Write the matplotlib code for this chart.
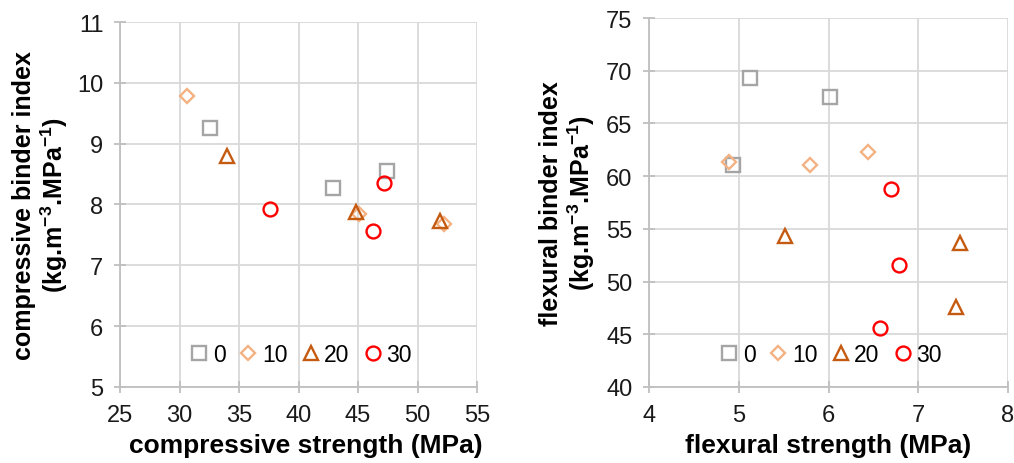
import matplotlib.pyplot as plt

plt.rcParams['font.family'] = ['Liberation Sans', 'DejaVu Sans']
plt.rcParams['mathtext.fontset'] = 'custom'
plt.rcParams['mathtext.bf'] = 'Liberation Sans:bold'
plt.rcParams['mathtext.rm'] = 'Liberation Sans'

series_labels = ['0', '10', '20', '30']
series_markers = ['s', 'D', '^', 'o']
series_colors = ['#A5A5A5', '#F4B183', '#C55A11', '#FF0000']
series_sizes = [10, 7.5, 9.5, 10]

# compressive strength (MPa) vs compressive binder index
comp_x = [
    [32.6, 42.9, 47.4],
    [30.6, 45.1, 52.2],
    [34.0, 44.8, 51.9],
    [37.6, 46.3, 47.2],
]
comp_y = [
    [9.26, 8.27, 8.55],
    [9.78, 7.84, 7.68],
    [8.80, 7.88, 7.73],
    [7.93, 7.56, 8.35],
]

# flexural strength (MPa) vs flexural binder index
flex_x = [
    [5.13, 6.02, 4.94],
    [4.89, 5.79, 6.44],
    [5.52, 7.46, 7.42],
    [6.70, 6.79, 6.57],
]
flex_y = [
    [69.3, 67.5, 61.1],
    [61.3, 61.05, 62.3],
    [54.3, 53.7, 47.6],
    [58.8, 51.6, 45.6],
]

fig = plt.figure(figsize=(10.14, 4.64), dpi=100)
ax1 = fig.add_axes([120 / 1014, 76 / 464, 357 / 1014, 365 / 464])
ax2 = fig.add_axes([649 / 1014, 76 / 464, 359 / 1014, 369 / 464])


def draw_panel(ax, xs, ys, xlim, ylim, xticks, yticks, xlabel, ylabel,
               ylab_x, xlab_x):
    for i in range(len(series_labels)):
        ax.plot(xs[i], ys[i], linestyle='none', marker=series_markers[i],
                markersize=series_sizes[i], markerfacecolor='none',
                markeredgecolor=series_colors[i], markeredgewidth=1.7,
                label=series_labels[i])
    ax.set_xlim(xlim)
    ax.set_ylim(ylim)
    ax.set_xticks(xticks)
    ax.set_yticks(yticks)
    ax.grid(True, color='#D9D9D9', linewidth=1.3)
    ax.set_axisbelow(True)
    for side in ['top', 'right']:
        ax.spines[side].set_visible(False)
    for side in ['left', 'bottom']:
        ax.spines[side].set_color('#BFBFBF')
        ax.spines[side].set_linewidth(1.3)
    ax.tick_params(colors='#BFBFBF', labelcolor='#1a1a1a', labelsize=17,
                   length=8, width=1.3, direction='inout', pad=8)
    ax.set_xlabel(xlabel, fontsize=19, fontweight='bold')
    ax.set_ylabel(ylabel, fontsize=18, fontweight='bold', linespacing=1.1)
    ax.xaxis.set_label_coords(xlab_x, -0.125)
    ax.yaxis.set_label_coords(ylab_x, 0.5)
    ax.legend(loc='lower center', bbox_to_anchor=(0.5, 0.02), ncol=4,
              frameon=False, fontsize=16.5, handletextpad=0.0,
              columnspacing=0.4, handlelength=1.2, borderaxespad=0.2)


draw_panel(ax1, comp_x, comp_y, (25, 55), (5, 11), range(25, 56, 5),
           range(5, 12), 'compressive strength (MPa)',
           'compressive binder index\n(kg.m$\\mathbf{^{-3}}$.MPa$\\mathbf{^{-1}}$)',
           -0.14, 0.52)
draw_panel(ax2, flex_x, flex_y, (4, 8), (40, 75), range(4, 9),
           range(40, 76, 5), 'flexural strength (MPa)',
           'flexural binder index\n(kg.m$\\mathbf{^{-3}}$.MPa$\\mathbf{^{-1}}$)',
           -0.145, 0.50)

fig.savefig('out.png', dpi=100)
